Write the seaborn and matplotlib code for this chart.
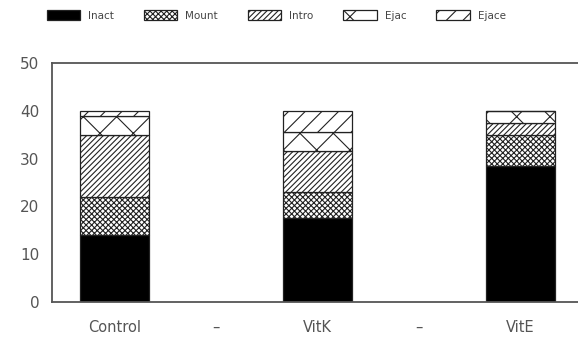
import pandas as pd
import matplotlib.pyplot as plt
import seaborn as sns

# --- DATA ---
groups = ["Control", "VitK", "VitE"]
inact = [14, 17.5, 28.5]
mount = [8, 5.5, 6.5]
intro = [13, 8.5, 2.5]
ejac = [4, 4, 2.5]
ejace = [1, 4.5, 0]

series_names = ["Inact", "Mount", "Intro", "Ejac", "Ejace"]
series_vals = [inact, mount, intro, ejac, ejace]
hatches = ["", "xxxxxx", "//////", "x", "//"]
fills = ["black", "white", "white", "white", "white"]

order = ["Control", "gap1", "VitK", "gap2", "VitE"]
tick_labels = ["Control", "\u2013", "VitK", "\u2013", "VitE"]

sns.set_style("white")
plt.rcParams["font.family"] = ["DejaVu Sans"]
plt.rcParams["hatch.linewidth"] = 0.8
plt.rcParams["hatch.color"] = "#222222"

fig = plt.figure(figsize=(5.78, 3.38), dpi=100)
ax = fig.add_axes([0.09, 0.1065, 0.91, 0.707])

# --- STACKED BARS ---
bottom = [0, 0, 0]
for name, vals, h, fc in zip(series_names, series_vals, hatches, fills):
    df = pd.DataFrame({"group": groups, "value": vals})
    n_before = len(ax.patches)
    sns.barplot(data=df, x="group", y="value", order=order, bottom=bottom,
                color=fc, edgecolor="#222222", linewidth=0.9, width=0.68,
                saturation=1, ax=ax, label=name, errorbar=None)
    for p in ax.patches[n_before:]:
        p.set_hatch(h)
        p.set_facecolor(fc)
    bottom = [b + v for b, v in zip(bottom, vals)]

# --- AXES ---
ax.set_ylim(0, 50)
ax.set_xlim(-0.62, 4.57)
ax.set_yticks([0, 10, 20, 30, 40, 50])
ax.set_xticks(range(5))
ax.set_xticklabels(tick_labels)
ax.set_xlabel("")
ax.set_ylabel("")
ax.tick_params(axis="y", direction="in", length=3, width=1, colors="#444444",
               labelsize=11, labelcolor="#555555", pad=9)
ax.tick_params(axis="x", length=0, labelsize=10.5, labelcolor="#555555", pad=13)
for s in ["left", "top", "bottom"]:
    ax.spines[s].set_color("#555555")
    ax.spines[s].set_linewidth(1.3)
ax.spines["right"].set_visible(False)

# --- LEGEND ---
handles, labels = ax.get_legend_handles_labels()
ax.legend(handles, labels, ncol=5, frameon=False, fontsize=7.5,
          loc="center", bbox_to_anchor=(0.478, 0.955),
          bbox_transform=fig.transFigure, handlelength=3.2,
          handleheight=1.2, handletextpad=0.8, columnspacing=2.85,
          labelcolor="#444444")

plt.savefig("out.png", dpi=100)
